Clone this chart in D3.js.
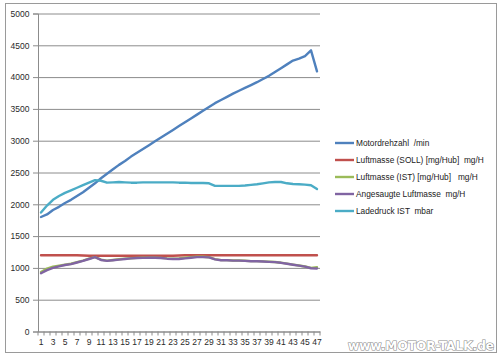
<!DOCTYPE html>
<html>
<head>
<meta charset="utf-8">
<script src="https://cdn.jsdelivr.net/npm/d3@7"></script>
<style>
  html, body { margin: 0; padding: 0; background: #fff; }
  svg text { font-family: "Liberation Sans", Arial, sans-serif; white-space: pre; }
</style>
</head>
<body>
<script>
// ---------- data ----------
const categories = d3.range(1, 48);
const yTicks = [0, 500, 1000, 1500, 2000, 2500, 3000, 3500, 4000, 4500, 5000];
const seriesNames = [
  "Motordrehzahl  /min",
  "Luftmasse (SOLL) [mg/Hub]  mg/H",
  "Luftmasse (IST) [mg/Hub]   mg/H",
  "Angesaugte Luftmasse  mg/H",
  "Ladedruck IST  mbar"
];
const seriesColors = ["#4F81BD", "#C0504D", "#9BBB59", "#8064A2", "#4BACC6"];

const motordrehzahl = [1800,1840,1910,1960,2020,2070,2130,2190,2260,2330,2410,2480,2550,2620,2680,2750,2810,2870,2930,2990,3050,3110,3170,3230,3290,3350,3410,3470,3530,3590,3640,3690,3740,3785,3830,3875,3920,3970,4020,4080,4140,4200,4260,4290,4330,4420,4090];
const luftmasseSoll = [1200,1200,1200,1200,1200,1200,1200,1195,1190,1190,1190,1190,1190,1190,1190,1190,1190,1190,1190,1190,1190,1190,1190,1195,1200,1200,1200,1200,1200,1200,1200,1200,1200,1200,1200,1200,1200,1200,1200,1200,1200,1200,1200,1200,1200,1200,1200];
const luftmasseIst = [935,990,1020,1035,1050,1065,1090,1115,1145,1170,1130,1115,1125,1135,1145,1152,1158,1160,1162,1162,1158,1150,1145,1148,1160,1170,1178,1175,1168,1138,1122,1122,1117,1117,1112,1107,1107,1102,1097,1092,1082,1067,1052,1037,1022,1000,1010];
const angesaugteLuftmasse = [915,965,1000,1025,1045,1060,1085,1110,1140,1170,1125,1110,1120,1130,1140,1150,1155,1158,1160,1160,1155,1145,1140,1140,1150,1160,1170,1170,1165,1135,1120,1120,1115,1115,1110,1105,1105,1100,1095,1090,1080,1065,1050,1035,1020,995,990];
const ladedruckIst = [1870,1980,2070,2130,2180,2220,2260,2300,2340,2380,2370,2340,2345,2350,2345,2340,2340,2345,2345,2345,2345,2345,2345,2340,2340,2335,2335,2335,2330,2290,2290,2290,2290,2290,2295,2305,2315,2330,2345,2350,2350,2330,2320,2315,2310,2300,2240];

const seriesValues = [motordrehzahl, luftmasseSoll, luftmasseIst, angesaugteLuftmasse, ladedruckIst];
const watermark = "www.MOTOR-TALK.de";

// ---------- chart ----------
const W = 500, H = 357;
const svg = d3.select("body").append("svg").attr("width", W).attr("height", H);

// chart area frame
svg.append("rect").attr("x", 5.5).attr("y", 3.5).attr("width", 491).attr("height", 349)
  .attr("fill", "#fff").attr("stroke", "#9a9a9a").attr("stroke-width", 1);

const plot = { left: 38, right: 320, top: 13.5, bottom: 331.5 };

const x = d3.scaleBand().domain(categories).range([plot.left, plot.right]).padding(0);
const y = d3.scaleLinear().domain([0, 5000]).range([plot.bottom, plot.top]);
const cx = c => x(c) + x.bandwidth() / 2;

const labelFont = "'Liberation Sans', Arial, sans-serif";

// gridlines
const grid = svg.append("g").attr("transform", `translate(${plot.left},0)`)
  .call(d3.axisLeft(y).tickValues(yTicks).tickSize(-(plot.right - plot.left)).tickFormat(""));
grid.select(".domain").remove();
grid.selectAll("line").attr("stroke", "#8c8c8c").attr("stroke-width", 1);

// y axis
const yAxis = svg.append("g").attr("transform", `translate(${plot.left},0)`)
  .call(d3.axisLeft(y).tickValues(yTicks).tickFormat(d3.format("d")).tickSize(5).tickPadding(3.5));
yAxis.select(".domain").attr("stroke", "#8c8c8c");
yAxis.selectAll("line").attr("stroke", "#8c8c8c");
yAxis.selectAll("text").attr("fill", "#2a2a2a").style("font-size", "8.5px")
  .style("font-family", labelFont);

// x axis
const xAxis = svg.append("g").attr("transform", `translate(0,${plot.bottom})`)
  .call(d3.axisBottom(x).tickValues(categories.filter((c, i) => i % 2 === 0)).tickSize(0).tickPadding(7));
xAxis.select(".domain").attr("stroke", "#8c8c8c");
xAxis.selectAll("text").attr("fill", "#2a2a2a").style("font-size", "8.5px")
  .style("font-family", labelFont);
// tick marks between categories
svg.append("g").selectAll("line").data(categories.concat([null])).join("line")
  .attr("x1", c => c === null ? plot.right : x(c))
  .attr("x2", c => c === null ? plot.right : x(c))
  .attr("y1", plot.bottom).attr("y2", plot.bottom + 4)
  .attr("stroke", "#8c8c8c");

// lines
const line = d3.line().x((d, i) => cx(categories[i])).y(d => y(d)).curve(d3.curveLinear);
svg.append("g").selectAll("path").data(d3.range(seriesValues.length)).join("path")
  .attr("d", i => line(seriesValues[i]))
  .attr("fill", "none")
  .attr("stroke", i => seriesColors[i])
  .attr("stroke-width", 2.4)
  .attr("stroke-linejoin", "round")
  .attr("stroke-linecap", "round");

// legend
const legend = svg.append("g");
const legY = [143, 160, 177, 194, 211];
const items = legend.selectAll("g").data(seriesNames).join("g")
  .attr("transform", (d, i) => `translate(335,${legY[i]})`);
items.append("line").attr("x1", 0).attr("x2", 19).attr("y1", 0).attr("y2", 0)
  .attr("stroke", (d, i) => seriesColors[i]).attr("stroke-width", 2.4);
items.append("text").attr("x", 21).attr("y", 0).attr("dy", "0.35em")
  .style("font-size", "8.3px").attr("fill", "#222").text(d => d);

// watermark
svg.append("text").attr("x", 494).attr("y", 350).attr("text-anchor", "end")
  .style("font-size", "12px").style("font-weight", "bold")
  .style("font-family", "'DejaVu Sans', sans-serif")
  .attr("textLength", 146).attr("lengthAdjust", "spacingAndGlyphs")
  .attr("fill", "#fff").attr("stroke", "#8a8a8a").attr("stroke-width", 1.1)
  .attr("paint-order", "stroke")
  .text(watermark);
</script>
</body>
</html>
